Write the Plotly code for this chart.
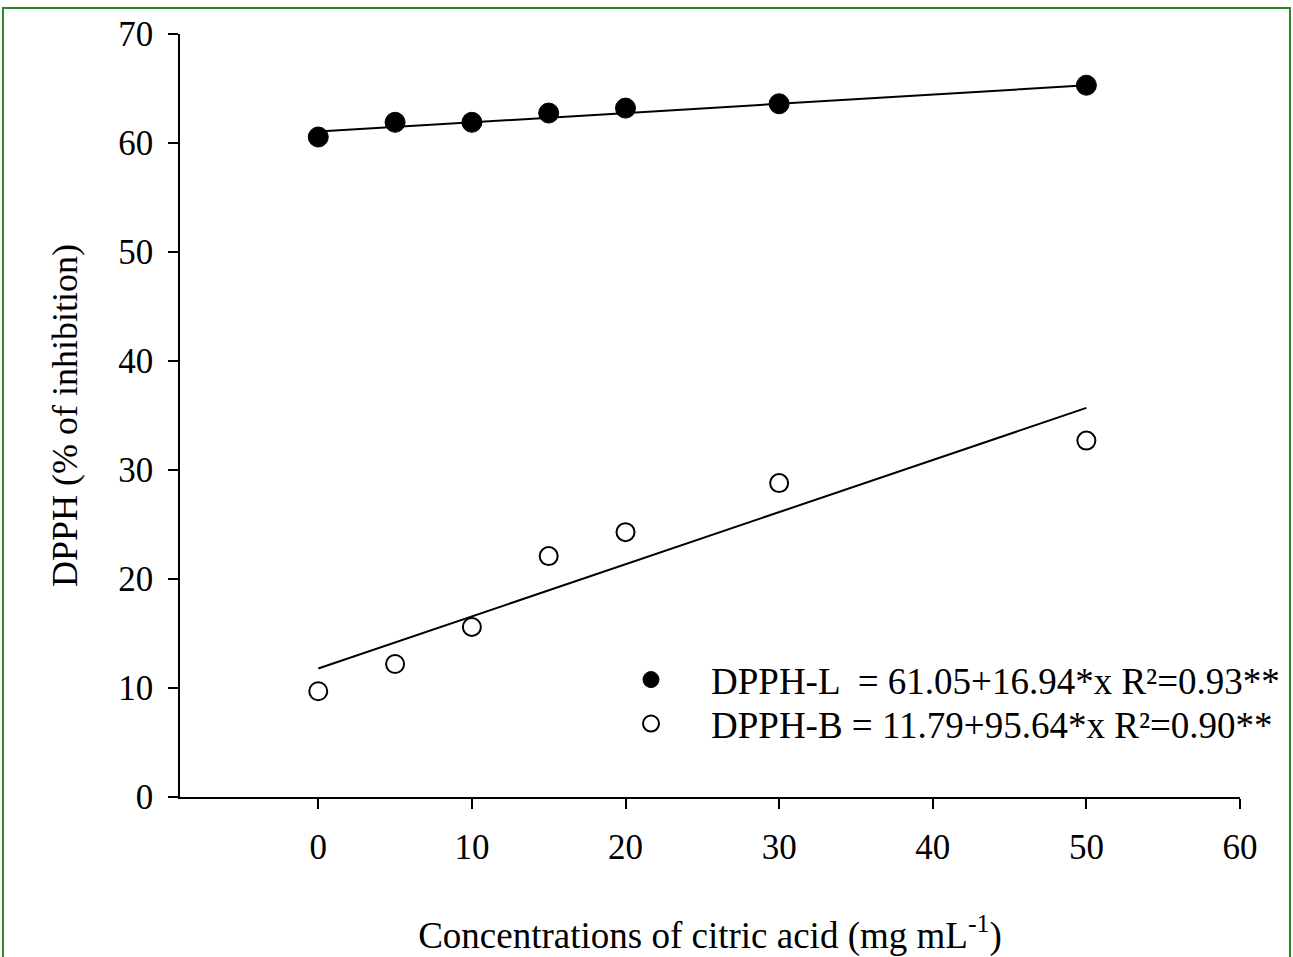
import plotly.graph_objects as go

# Data
conc = [0, 5, 10, 15, 20, 30, 50]
dpph_l = [60.55, 61.9, 61.9, 62.75, 63.2, 63.6, 65.3]
dpph_b = [9.7, 12.2, 15.6, 22.1, 24.3, 28.8, 32.7]

fit_x = [0, 50]
fit_l = [61.05, 65.29]
fit_b = [11.79, 35.70]

name_l = "DPPH-L  = 61.05+16.94*x R²=0.93**"
name_b = "DPPH-B = 11.79+95.64*x R²=0.90**"

x_ticks = [0, 10, 20, 30, 40, 50, 60]
y_ticks = [0, 10, 20, 30, 40, 50, 60, 70]

FONT = "Liberation Serif"

fig = go.Figure()
fig.add_trace(go.Scatter(x=fit_x, y=fit_l, mode="lines",
                         line=dict(color="black", width=2), showlegend=False, hoverinfo="skip"))
fig.add_trace(go.Scatter(x=fit_x, y=fit_b, mode="lines",
                         line=dict(color="black", width=2), showlegend=False, hoverinfo="skip"))
fig.add_trace(go.Scatter(x=conc, y=dpph_l, mode="markers", name=name_l, legend="legend",
                         marker=dict(symbol="circle", size=20, color="black",
                                     line=dict(color="black", width=1))))
fig.add_trace(go.Scatter(x=conc, y=dpph_b, mode="markers", name=name_b, legend="legend2",
                         marker=dict(symbol="circle", size=18, color="white",
                                     line=dict(color="black", width=2))))

W, H = 1293, 957
L, R, T, B = 180, 53, 34, 160
pw, ph = W - L - R, H - T - B

def px(xp):
    return (xp - L) / pw

def py(yp):
    return (H - B - yp) / ph

leg_common = dict(xanchor="left", yanchor="top", bgcolor="rgba(0,0,0,0)",
                  font=dict(family=FONT, size=37), itemwidth=110)

fig.update_layout(
    width=W, height=H,
    margin=dict(l=L, r=R, t=T, b=B, autoexpand=False),
    paper_bgcolor="white", plot_bgcolor="white",
    font=dict(family=FONT, size=35, color="black"),
    showlegend=True,
    legend=dict(x=px(591), y=py(649), **leg_common),
    legend2=dict(x=px(591), y=py(693), **leg_common),
    xaxis=dict(range=[-9, 60], tickvals=x_ticks, showgrid=False, zeroline=False,
               showline=True, linecolor="black", linewidth=1.5,
               ticks="outside", ticklen=10, tickwidth=1.5, tickcolor="black",
               ticklabelstandoff=8,
               title=dict(text="Concentrations of citric acid (mg mL<sup>-1</sup>)",
                          font=dict(family=FONT, size=37), standoff=58)),
    yaxis=dict(range=[0, 70], tickvals=y_ticks, showgrid=False, zeroline=False,
               showline=True, linecolor="black", linewidth=1.5,
               ticks="outside", ticklen=10, tickwidth=1.5, tickcolor="black",
               ticklabelstandoff=8,
               title=dict(text="DPPH (% of inhibition)",
                          font=dict(family=FONT, size=36), standoff=30)),
    shapes=[dict(type="rect", xref="paper", yref="paper",
                 x0=px(3), x1=px(1290), y0=py(962), y1=py(8),
                 line=dict(color="#2a8a2a", width=2), fillcolor="rgba(0,0,0,0)")],
)

fig.write_html("out.html")
